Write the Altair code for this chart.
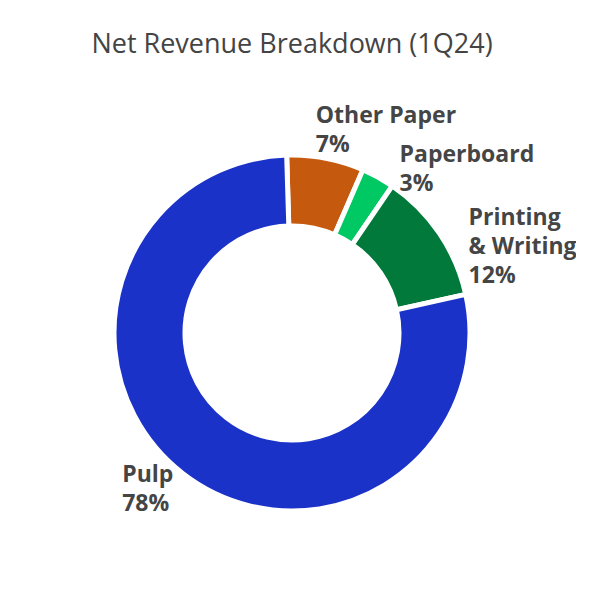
import altair as alt
import pandas as pd

# Net revenue split, 1Q24 (percent)
segments = ["Other Paper", "Paperboard", "Printing & Writing", "Pulp"]
shares = [7, 3, 12, 78]
label_names = ["Other Paper", "Paperboard", "Printing\n& Writing", "Pulp"]
colors = ["#C55A0F", "#00C862", "#00793A", "#1B32C8"]

df = pd.DataFrame({"segment": segments, "share": shares, "name": label_names})
df["rank"] = range(len(df))
df["label"] = df["name"] + "\n" + df["share"].astype(str) + "%"

# start a hair left of 12 o'clock, like the original
theta = alt.Theta("share:Q", stack=True, scale=alt.Scale(range=[-0.03, 6.2532]))

base = alt.Chart(df).encode(theta=theta, order=alt.Order("rank:Q"))

donut = base.mark_arc(outerRadius=178, innerRadius=107, stroke="white", strokeWidth=5).encode(
    color=alt.Color("segment:N", scale=alt.Scale(domain=segments, range=colors), legend=None)
)

# label nudges per slice (dx, dy)
nudges = {
    "Other Paper": (-14, -14),
    "Paperboard": (11, 4),
    "Printing & Writing": (11, 4),
    "Pulp": (-47, -9),
}

layers = [donut]
for seg, (dx, dy) in nudges.items():
    txt = base.mark_text(
        radius=200, align="left", baseline="alphabetic", dx=dx, dy=dy,
        font="Open Sans", fontSize=23, fontWeight="bold", color="#454545",
        lineBreak="\n", lineHeight=29
    ).encode(
        text=alt.condition(f"datum.segment == '{seg}'", "label:N", alt.value(""))
    )
    layers.append(txt)

chart = alt.layer(*layers).properties(
    width=568,
    height=530,
    autosize=alt.AutoSizeParams(type="none"),
    padding={"left": 0, "top": 60, "right": 0, "bottom": 0},
    title=alt.TitleParams(
        "Net Revenue Breakdown (1Q24)", font="Open Sans", fontSize=27,
        fontWeight="normal", color="#444444", anchor="middle", offset=9
    ),
).configure_view(stroke=None)

chart.save("out.html", embed_options={"renderer": "svg", "actions": False})
